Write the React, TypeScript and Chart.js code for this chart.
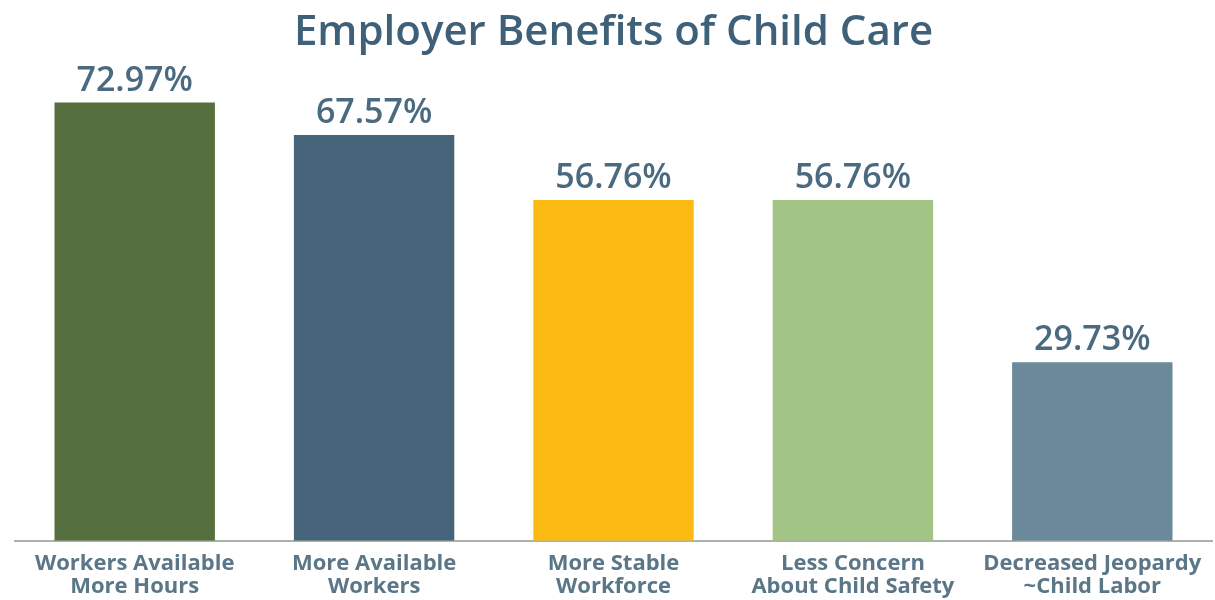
import React, { useEffect, useRef } from "react";
import { Chart, registerables } from "chart.js";

Chart.register(...registerables);

const categories: string[][] = [
  ["Workers Available", "More Hours"],
  ["More Available", "Workers"],
  ["More Stable", "Workforce"],
  ["Less Concern", "About Child Safety"],
  ["Decreased Jeopardy", "~Child Labor"],
];
const values: number[] = [72.97, 67.57, 56.76, 56.76, 29.73];
const barColors: string[] = ["#566f3e", "#46657b", "#fbbb12", "#a2c484", "#6a8a9b"];
const titleText = "Employer Benefits of Child Care";

const FONT = "'Open Sans', 'Noto Sans', sans-serif";

const valueLabels = {
  id: "valueLabels",
  afterDatasetsDraw(chart: any) {
    const ctx = chart.ctx;
    const meta = chart.getDatasetMeta(0);
    ctx.save();
    ctx.font = `600 34px ${FONT}`;
    ctx.fillStyle = "#4a6a80";
    ctx.textAlign = "center";
    ctx.textBaseline = "alphabetic";
    meta.data.forEach((bar: any, i: number) => {
      ctx.fillText(values[i].toFixed(2) + "%", bar.x, bar.y - 12);
    });
    ctx.restore();
  },
};

export default function App() {
  const ref = useRef<HTMLCanvasElement | null>(null);
  useEffect(() => {
    if (!ref.current) return;
    const chart = new Chart(ref.current, {
      type: "bar",
      data: {
        labels: categories,
        datasets: [
          {
            data: values,
            backgroundColor: barColors,
            barPercentage: 0.67,
            categoryPercentage: 1,
          },
        ],
      },
      options: {
        animation: false,
        responsive: false,
        layout: { padding: { left: 15, right: 3, bottom: -9, top: 0 } },
        plugins: {
          legend: { display: false },
          tooltip: { enabled: false },
          title: {
            display: true,
            text: titleText,
            color: "#3f6079",
            font: { family: FONT, size: 42, weight: "600", lineHeight: 1.2 },
            padding: { top: 8, bottom: 2 },
          },
        },
        scales: {
          x: {
            grid: { display: false, drawTicks: false },
            border: { display: true, color: "#aab3a6", width: 2 },
            ticks: {
              color: "#5a7687",
              font: { family: FONT, size: 22, weight: "700", lineHeight: 1.05 },
              padding: 11,
              maxRotation: 0,
              autoSkip: false,
            },
          },
          y: {
            display: false,
            min: 0,
            max: 80,
          },
        },
      },
      plugins: [valueLabels],
    });
    return () => chart.destroy();
  }, []);
  return (
    <div style={{ position: "fixed", left: 0, top: 0, width: 1215, height: 600, background: "#fff" }}>
      <canvas ref={ref} width={1215} height={600} />
    </div>
  );
}
